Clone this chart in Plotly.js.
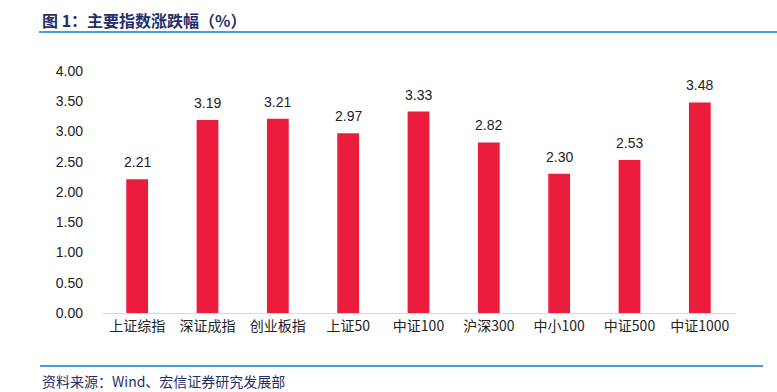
<!DOCTYPE html>
<html>
<head>
<meta charset="utf-8">
<script src="https://cdn.plot.ly/plotly-3.0.1.min.js"></script>
<style>html,body{margin:0;padding:0;background:#fff;}#chart{width:777px;height:392px;}</style>
</head>
<body>
<div id="chart"></div>
<script>
const categories = ['上证综指','深证成指','创业板指','上证50','中证100','沪深300','中小100','中证500','中证1000'];
const changes = [2.21, 3.19, 3.21, 2.97, 3.33, 2.82, 2.30, 2.53, 3.48];
const yTicks = [0, 0.5, 1, 1.5, 2, 2.5, 3, 3.5, 4];

const W = 777, H = 392;
const L = 102, R = 735, T = 71, B = 313;
const px = x => (x - L) / (R - L);
const py = y => (B - y) / (B - T);
const navy = '#1F2F6E';
const blue = '#4A9BD6';

const trace = {
  type: 'bar',
  x: categories,
  y: changes,
  marker: {color: '#EC1C3C'},
  hoverinfo: 'none'
};

const valueLabels = categories.map((c, i) => ({
  x: c, y: changes[i], xref: 'x', yref: 'y',
  text: changes[i].toFixed(2), showarrow: false,
  xanchor: 'center', yanchor: 'bottom', yshift: 7,
  font: {family: 'Liberation Sans, Arial, sans-serif', size: 14, color: '#222'}
}));

const layout = {
  width: W, height: H,
  margin: {l: L, r: W - R, t: T, b: H - B, pad: 0},
  paper_bgcolor: '#fff', plot_bgcolor: '#fff',
  font: {family: 'Liberation Sans, "Noto Sans CJK SC", sans-serif', size: 13, color: '#222'},
  bargap: 0.69,
  showlegend: false,
  xaxis: {
    type: 'category',
    showline: true, linecolor: '#D9D9D9', linewidth: 1,
    showgrid: false, zeroline: false, ticks: '',
    tickfont: {family: '"Noto Sans CJK SC", sans-serif', size: 14, color: '#222'}
  },
  yaxis: {
    range: [0, 4], tickvals: yTicks, tickformat: '.2f',
    showgrid: false, zeroline: false, showline: false, ticks: '',
    ticklabelstandoff: 18,
    tickfont: {family: 'Liberation Sans, Arial, sans-serif', size: 14, color: '#222'}
  },
  shapes: [
    {type: 'line', xref: 'paper', yref: 'paper', x0: px(39), x1: px(777), y0: py(32), y1: py(32), line: {color: blue, width: 2}},
    {type: 'line', xref: 'paper', yref: 'paper', x0: px(40), x1: px(763), y0: py(366), y1: py(366), line: {color: blue, width: 2}}
  ],
  annotations: [
    {xref: 'paper', yref: 'paper', x: px(40), y: py(20), xanchor: 'left', yanchor: 'middle', showarrow: false,
     text: '<b>图 1：主要指数涨跌幅（%）</b>', font: {family: '"Noto Sans CJK SC", sans-serif', size: 16, color: navy}},
    {xref: 'paper', yref: 'paper', x: px(40), y: py(381), xanchor: 'left', yanchor: 'middle', showarrow: false,
     text: '资料来源：Wind、宏信证券研究发展部', font: {family: '"Noto Sans CJK SC", sans-serif', size: 14, color: navy}}
  ].concat(valueLabels)
};

Plotly.newPlot('chart', [trace], layout, {displayModeBar: false, staticPlot: true});
</script>
</body>
</html>
